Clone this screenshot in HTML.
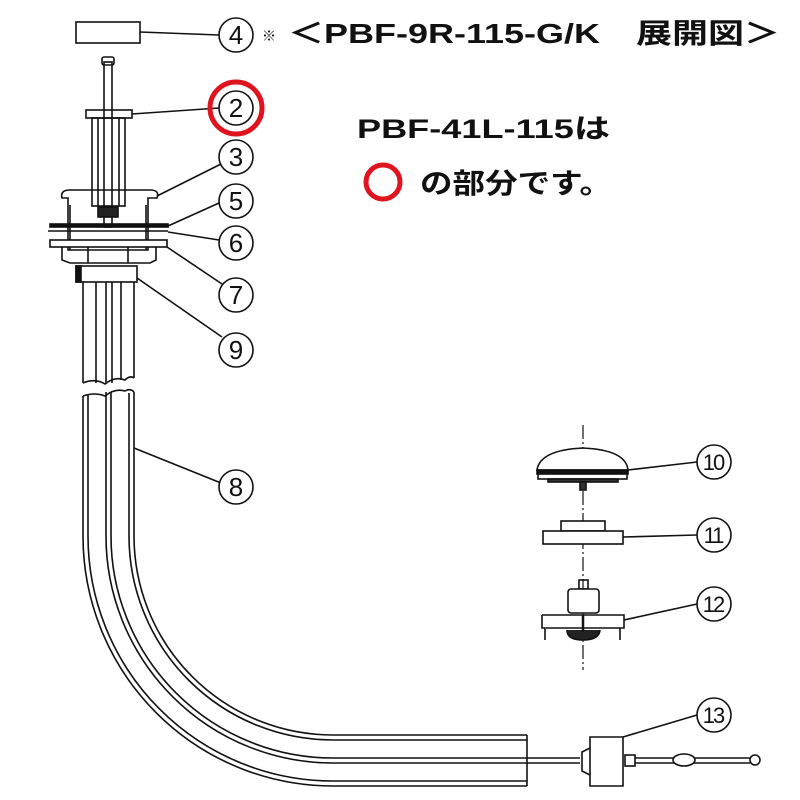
<!DOCTYPE html>
<html><head><meta charset="utf-8"><style>
html,body{margin:0;padding:0;background:#fff;width:800px;height:800px;overflow:hidden}
svg{display:block}
</style></head><body>
<svg width="800" height="800" viewBox="0 0 800 800" xmlns="http://www.w3.org/2000/svg">
<g fill="none" stroke="#111" stroke-width="1.6">
<rect x="76" y="22" width="64" height="21" fill="#fff"/>
<line x1="140" y1="32" x2="219" y2="35"/>
<rect x="104" y="62" width="8" height="165"/>
<rect x="102" y="57" width="12" height="8" rx="2"/>
<rect x="86" y="110" width="46" height="8"/>
<rect x="92" y="118" width="33" height="88"/>
<line x1="98" y1="118" x2="98" y2="206"/><line x1="119" y1="118" x2="119" y2="206"/>
<line x1="132" y1="114" x2="219" y2="108"/>
<rect x="98" y="207" width="20" height="10" fill="#222"/>
<path d="M62 198 Q60 190 70 190 L150 190 Q160 190 157 198 L148 198 L148 250 L68 250 L68 198 Z"/>
<line x1="70" y1="205" x2="70" y2="250"/><line x1="146" y1="205" x2="146" y2="250"/>
<line x1="157" y1="196" x2="221" y2="164"/>
<rect x="50" y="224" width="118" height="3" fill="#111"/>
<line x1="48" y1="231" x2="168" y2="231"/>
<line x1="168" y1="226" x2="219" y2="203"/>
<line x1="168" y1="232" x2="219" y2="240"/>
<rect x="50" y="240" width="117" height="7" fill="#fff"/>
<line x1="167" y1="247" x2="222" y2="284"/>
<path d="M62 247 L62 260 L70 263 L150 263 L156 260 L156 247"/>
<line x1="88" y1="247" x2="88" y2="263"/><line x1="128" y1="247" x2="128" y2="263"/>
<rect x="76" y="266" width="61" height="16" fill="#fff"/>
<rect x="76" y="266" width="5" height="16" fill="#111"/>
<line x1="137" y1="278" x2="222" y2="337"/>
<line x1="83" y1="282" x2="83" y2="383"/><line x1="134" y1="282" x2="134" y2="378"/>
<line x1="96" y1="282" x2="96" y2="383"/><line x1="121" y1="282" x2="121" y2="380"/>
<line x1="106" y1="282" x2="106" y2="383"/><line x1="112" y1="282" x2="112" y2="383"/>
<path d="M83 383 Q95 378 105 384 Q115 376 125 380 Q130 375 134 378"/>
<path d="M83 396 Q95 392 105 396 Q115 388 125 391 Q130 388 134 392"/>
<path d="M83 396 L83 536 A250 250 0 0 0 333 786 L527 786"/>
<path d="M88 394 L88 536 A245 245 0 0 0 333 781 L527 781"/>
<path d="M134 392 L134 536 A199 199 0 0 0 333 735 L527 735"/>
<path d="M129 393 L129 536 A204 204 0 0 0 333 740 L527 740"/>
<path d="M106 392 L106 536 A227 227 0 0 0 333 763 L580 763"/>
<path d="M111 392 L111 536 A222 222 0 0 0 333 758 L580 758"/>
<line x1="527" y1="735" x2="527" y2="786"/>
<line x1="134" y1="448" x2="221" y2="483"/>
<line x1="583" y1="425" x2="583" y2="670" stroke-dasharray="14 3 2 3" stroke-width="1.2"/>
<path d="M537 470 Q540 450 583 448 Q626 450 628 470 Z" fill="#fff"/>
<rect x="537" y="470" width="91" height="4" fill="#111"/>
<rect x="538" y="474" width="89" height="5" fill="#fff"/>
<rect x="548" y="479" width="70" height="3" fill="#333"/>
<rect x="580" y="482" width="6" height="8" fill="#333"/>
<line x1="628" y1="470" x2="697" y2="462"/>
<rect x="561" y="521" width="44" height="10" fill="#fff"/>
<rect x="543" y="531" width="80" height="13" fill="#fff"/>
<line x1="623" y1="537" x2="697" y2="535"/>
<rect x="579" y="580" width="9" height="9"/>
<rect x="568" y="589" width="31" height="24" rx="3" fill="#fff"/>
<path d="M542 615 L624 615 L624 628 L620 628 L620 640 M542 615 L542 628 L545 628 L545 640"/>
<line x1="546" y1="628" x2="620" y2="628"/>
<path d="M567 630 Q567 640 583 640 Q599 640 600 630" fill="#222"/>
<line x1="583" y1="615" x2="583" y2="632" stroke-width="2.5"/>
<line x1="624" y1="620" x2="697" y2="604"/>
<path d="M590 737 L623 737 L623 786 L590 786 L590 775 L582 771 L582 752 L590 748 Z" fill="#fff"/>
<line x1="590" y1="748" x2="590" y2="775"/>
<line x1="623" y1="737" x2="697" y2="715"/>
<rect x="625" y="755" width="10" height="11"/>
<line x1="635" y1="758" x2="750" y2="758"/><line x1="635" y1="763" x2="750" y2="763"/>
<ellipse cx="684" cy="760" rx="11" ry="6" fill="#fff"/>
<circle cx="755" cy="760" r="5" fill="#fff"/>
<g fill="#fff" stroke-width="1.6">
<circle cx="236" cy="35" r="17"/><circle cx="236" cy="108" r="17"/>
<circle cx="236" cy="157" r="17"/><circle cx="236" cy="201" r="17"/>
<circle cx="236" cy="243" r="17"/><circle cx="236" cy="295" r="17"/>
<circle cx="236" cy="350" r="17"/><circle cx="236" cy="487" r="17"/>
<circle cx="714" cy="462" r="17"/><circle cx="714" cy="535" r="17"/>
<circle cx="714" cy="604" r="17"/><circle cx="714" cy="715" r="17"/>
</g>
<circle cx="236" cy="108" r="26" stroke="#e0141e" stroke-width="5"/>
<circle cx="383" cy="182" r="17" stroke="#e0141e" stroke-width="5"/>
</g>
<g font-family="Liberation Sans, sans-serif" font-size="26" fill="#111" text-anchor="middle">
<text x="236" y="44">4</text><text x="236" y="117">2</text><text x="236" y="166">3</text>
<text x="236" y="210">5</text><text x="236" y="252">6</text><text x="236" y="304">7</text>
<text x="236" y="359">9</text><text x="236" y="496">8</text>
<g font-size="22" letter-spacing="-2"><text x="713" y="470">10</text><text x="713" y="543">11</text>
<text x="713" y="612">12</text><text x="713" y="723">13</text></g>
</g>
<g font-family="Liberation Sans, 'Noto Sans CJK JP', sans-serif" fill="#111" font-weight="bold">
<text x="262" y="41" font-size="14" font-weight="normal">※</text>
<text x="288" y="43" font-size="28" textLength="492" lengthAdjust="spacingAndGlyphs">＜PBF-9R-115-G/K　展開図＞</text>
<text x="357" y="138" font-size="27" textLength="253" lengthAdjust="spacingAndGlyphs">PBF-41L-115は</text>
<text x="420" y="193" font-size="28" textLength="192" lengthAdjust="spacingAndGlyphs">の部分です。</text>
</g>
</svg>
</body></html>
